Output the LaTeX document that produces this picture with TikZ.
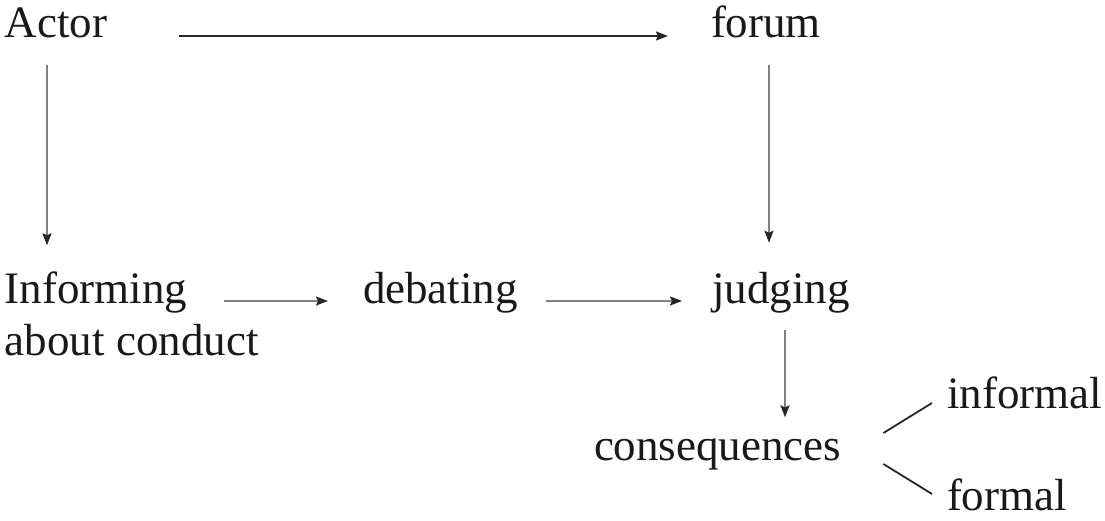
\documentclass[tikz,border=0pt]{standalone}
\usepackage{fontspec}
\setmainfont{Liberation Serif}
\usetikzlibrary{arrows.meta}
\begin{document}
\begin{tikzpicture}[x=1pt,y=-1pt,
  lbl/.style={inner sep=0pt,outer sep=0pt,anchor=base west,font=\fontsize{45}{52}\selectfont,text=black!90},
  arr/.style={line width=1.8pt,-{Stealth[length=12pt,width=9pt,inset=2pt,color=black!85]}},
  grayarr/.style={arr,draw=black!50},
  branch/.style={line width=1.8pt,draw=black!85}]
\useasboundingbox (0,0) rectangle (1105,521);
\node[lbl] (actor) at (5,38) {Actor};
\node[lbl] (forum) at (711,38) {forum};
\node[lbl,align=left] (inform) at (5,355) {Informing\\about conduct};
\node[lbl] (debating) at (363,303) {debating};
\node[lbl] (judging) at (712,303) {judging};
\node[lbl] (conseq) at (594,460) {consequences};
\node[lbl] (informal) at (947,408) {informal};
\node[lbl] (formal) at (947,510) {formal};
\draw[arr,draw=black!85] ([shift={(72,-2)}]actor.base east) -- ([shift={(-43,-2)}]forum.base west);
\draw[grayarr] ([shift={(42,27)}]actor.south west) -- ([shift={(42,-26)}]inform.north west);
\draw[grayarr] ([shift={(58,27)}]forum.south west) -- ([shift={(57,-29)}]judging.north west);
\draw[grayarr] ([shift={(-139,-2)}]debating.base west) -- ([shift={(-35,-2)}]debating.base west);
\draw[grayarr] ([shift={(28,-2)}]debating.base east) -- ([shift={(-30,-2)}]judging.base west);
\draw[grayarr] ([shift={(73,17)}]judging.south west) -- ([shift={(191,-21)}]conseq.north west);
\draw[branch] ([shift={(42,-27)}]conseq.base east) -- ([shift={(-15,-5)}]informal.base west);
\draw[branch] ([shift={(42,4)}]conseq.base east) -- ([shift={(-15,-16)}]formal.base west);
\end{tikzpicture}
\end{document}
